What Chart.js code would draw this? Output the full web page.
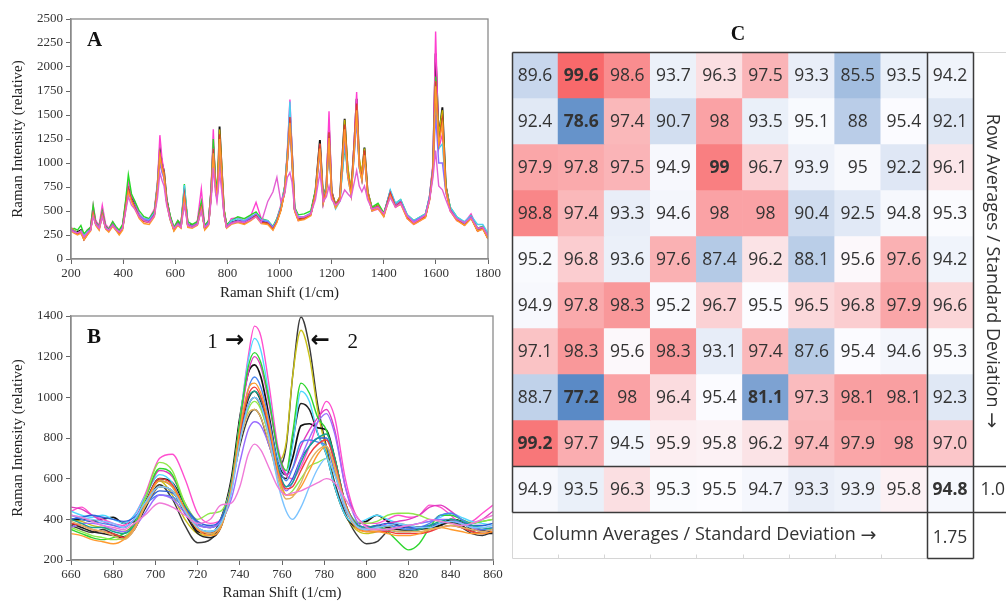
<!DOCTYPE html>
<html>
<head>
<meta charset="utf-8">
<script src="https://cdn.jsdelivr.net/npm/chart.js@4.4.0/dist/chart.umd.min.js"></script>
<style>
  body { margin: 0; background: #fff; width: 1006px; height: 602px; overflow: hidden; position: relative; }
  canvas { position: absolute; }
  #specA { left: 0; top: 0; }
  #specB { left: 0; top: 300px; }
  #heat { left: 505px; top: 0; }
</style>
</head>
<body>
<canvas id="specA" width="506" height="302"></canvas>
<canvas id="specB" width="506" height="302"></canvas>
<canvas id="heat" width="501" height="602"></canvas>
<script>
// ---- panel A: full spectra (Raman shift, 1/cm) ----
const xA = [200,212,225,238,250,262,275,285,295,308,
  320,333,345,360,372,385,398,410,420,432,
  445,462,480,500,520,532,541,549,557,567,
  580,595,610,622,635,648,665,685,700,713,
  728,738,746,754,760,765,770,778,787,797,
  815,840,865,890,910,930,955,975,990,1005,
  1020,1030,1040,1048,1058,1072,1095,1120,1138,1155,
  1168,1180,1190,1200,1215,1232,1250,1262,1275,1287,
  1296,1306,1316,1326,1338,1355,1378,1400,1425,1445,
  1465,1490,1515,1540,1560,1576,1589,1599,1611,1625,
  1638,1655,1680,1710,1735,1760,1780,1800];

const blackA = [310,290,280,300,210,260,310,490,380,330,
  480,330,300,370,320,270,330,560,750,640,
  560,450,400,390,470,760,1140,1000,910,620,
  440,310,380,340,690,360,350,380,560,330,
  380,700,1170,800,650,900,1380,950,500,340,
  380,400,380,420,460,390,380,320,400,520,
  720,1050,1510,1100,520,420,430,470,700,1240,
  600,760,1360,700,560,640,1460,900,700,1200,
  1670,1000,850,1160,700,520,560,460,700,560,
  600,440,380,420,450,640,950,2140,1260,1580,
  760,520,420,360,440,300,330,220];
const pinkA = [330,300,260,280,240,300,330,560,400,350,
  560,360,320,390,330,280,340,600,800,660,
  600,470,420,420,520,800,1290,1050,900,600,
  420,330,400,360,740,370,340,400,730,340,
  400,760,1350,760,620,760,1000,820,470,330,
  420,430,400,450,590,420,390,310,420,560,
  760,1120,1660,1150,500,400,420,460,680,1200,
  580,780,1540,720,540,650,1350,860,660,1250,
  1740,980,820,1080,680,500,520,450,680,540,
  580,420,360,400,440,660,1000,2370,1150,1300,
  700,500,400,380,470,320,340,240];
const pinkOutA = [300,280,270,290,230,270,300,440,360,320,
  440,320,300,350,310,280,320,500,650,560,
  520,440,400,380,450,640,900,820,760,560,
  420,320,360,330,560,350,330,360,500,330,
  360,620,950,700,600,720,900,720,460,330,
  370,390,380,410,440,380,600,700,850,600,
  680,850,900,800,520,430,440,470,620,900,
  600,650,760,620,560,600,720,680,640,800,
  920,760,700,760,620,520,540,470,640,540,
  580,450,380,420,460,620,850,1130,760,720,
  620,500,420,380,430,320,330,240];
const greenA = [280,320,300,350,260,300,330,560,380,340,
  500,340,310,390,340,300,360,620,880,680,
  600,500,440,420,500,780,1050,960,880,620,
  460,330,400,360,780,390,360,390,600,350,
  400,740,1250,860,680,950,1250,920,520,360,
  400,440,420,460,490,420,400,340,420,540,
  760,1080,1400,1050,540,460,470,500,720,1150,
  640,760,1200,700,560,640,1150,950,700,1150,
  1500,1000,880,1100,700,540,580,480,680,580,
  620,460,400,440,470,640,940,1900,1250,1450,
  760,540,440,380,450,320,340,240];
const oliveA = [320,300,270,290,220,260,300,470,370,330,
  470,320,300,360,310,260,320,540,720,620,
  540,440,400,380,460,740,1080,960,900,600,
  430,300,370,330,660,350,340,370,540,320,
  370,680,1050,760,640,960,1350,1000,520,340,
  370,390,370,410,450,380,370,320,390,510,
  700,1020,1450,1060,520,410,420,460,690,1200,
  620,740,1300,690,560,650,1450,960,720,1180,
  1600,1050,900,1150,720,520,560,460,680,560,
  600,440,380,410,450,620,920,1850,1300,1550,
  760,520,420,360,430,300,320,220];
const cyanA = [300,280,260,290,240,280,300,470,360,310,
  450,320,290,350,300,260,320,520,720,620,
  540,460,420,410,480,760,1100,960,860,600,
  410,300,360,330,770,360,330,360,520,320,
  360,680,1150,780,620,840,1200,900,480,330,
  400,420,400,440,470,410,400,330,410,540,
  740,1100,1640,1120,520,440,440,480,680,1150,
  600,740,1300,660,520,600,1200,850,660,1100,
  1550,950,820,1080,680,500,540,450,720,580,
  620,460,400,440,470,660,960,1600,1150,1200,
  740,540,440,390,450,360,360,270];
const orangeA = [290,270,250,270,200,250,290,460,350,300,
  450,310,280,340,300,250,300,520,700,600,
  520,420,370,360,440,720,1080,940,860,580,
  410,290,350,320,640,330,320,350,520,300,
  350,660,1100,760,620,860,1250,880,460,320,
  360,380,360,400,440,370,360,300,380,500,
  700,1020,1420,1040,500,400,410,450,670,1150,
  580,700,1260,660,530,610,1350,860,660,1120,
  1550,960,820,1080,670,500,530,440,660,540,
  570,420,360,400,430,610,900,1800,1200,1400,
  720,500,400,350,420,290,310,210];
const violetA = [310,290,270,290,230,270,310,480,370,330,
  470,330,300,360,320,270,330,540,720,620,
  560,450,410,400,470,740,1000,900,840,600,
  430,310,370,340,680,360,340,370,540,330,
  380,680,1080,780,640,860,1200,900,490,340,
  380,400,390,430,470,400,390,330,400,520,
  720,1000,1350,1000,520,430,440,470,680,1100,
  620,720,1200,680,550,620,1250,880,680,1100,
  1450,950,840,1050,690,520,550,460,690,560,
  600,450,390,430,460,640,920,1500,1000,1000,
  700,520,420,370,440,310,330,230];
const redA = [300,280,260,280,200,250,300,480,360,310,
  460,320,290,350,310,260,320,540,730,620,
  540,440,390,380,460,740,1100,970,880,600,
  420,300,360,330,670,350,330,360,540,310,
  360,680,1150,790,640,880,1300,920,480,330,
  370,390,370,410,450,380,370,310,390,510,
  710,1040,1480,1080,510,410,420,460,690,1200,
  600,720,1320,690,550,630,1400,880,690,1180,
  1620,980,840,1130,690,510,550,450,690,550,
  590,430,370,410,440,630,940,1850,1200,1450,
  740,510,410,350,430,290,320,210];

// ---- panel B: zoom 660-860 1/cm ----
const xB = [660,665,670,675,680,685,690,695,702,708,714,720,726,
  731,736,740,744,747,750,754,758,762,765,769,773,777,781,785,
  790,795,800,805,810,815,820,825,830,835,840,845,850,855,860];

const black1B = [370,350,335,350,330,315,360,460,570,500,370,285,300,380,560,760,900,940,900,760,660,760,1100,1395,1250,960,760,580,430,330,280,290,340,360,360,355,360,370,385,360,330,320,340];
const oliveB = [400,390,370,360,350,340,380,480,590,520,400,330,320,390,580,800,960,1000,950,800,690,780,1100,1330,1200,930,740,560,420,350,330,340,360,380,370,360,350,370,400,390,360,350,360];
const black2B = [400,400,390,400,410,380,390,480,600,580,470,340,330,400,600,900,1120,1160,1100,900,680,620,700,860,870,850,840,700,470,380,390,420,390,370,360,360,360,370,400,390,350,345,335];
const black3B = [380,360,340,330,320,310,350,450,560,540,430,330,310,360,560,820,990,1030,980,820,650,600,780,970,940,820,720,560,420,360,350,370,360,350,345,350,360,380,390,370,340,330,330];
const pinkTallB = [440,460,420,400,380,370,420,520,700,720,600,430,380,400,560,880,1200,1350,1300,1050,760,620,600,660,760,880,980,900,600,420,380,380,400,420,410,420,470,460,420,380,390,430,470];
const pinkLowB = [420,410,390,370,360,350,380,420,480,460,420,380,400,470,480,560,720,770,740,650,560,520,530,540,560,580,600,580,500,420,360,350,350,360,370,380,400,390,380,370,380,400,420];
const cyanB = [440,420,410,420,400,380,420,510,620,580,450,360,340,380,540,880,1180,1290,1230,1000,720,620,760,1030,980,820,720,560,420,380,400,420,400,380,370,380,390,410,430,410,390,380,370];
const greenB = [350,330,310,300,310,330,380,500,650,620,470,380,360,400,580,880,1150,1220,1170,980,740,640,820,1070,1020,900,840,700,480,380,360,370,340,290,250,280,360,420,420,400,380,390,400];
const blueB = [420,400,390,380,370,360,400,470,520,510,450,380,360,400,560,820,1040,1100,1050,880,680,590,650,780,790,780,760,630,450,370,350,360,370,360,350,360,380,420,430,400,370,350,360];
const orangeB = [330,320,300,290,280,300,360,470,590,560,450,350,320,360,560,840,1040,1070,1020,860,640,520,520,560,640,720,760,650,460,360,340,340,330,320,320,330,350,360,350,340,330,330,340];
const violetB = [360,380,380,370,350,340,360,430,520,500,430,370,360,390,500,680,840,880,860,760,620,540,580,700,800,880,920,820,560,400,350,340,350,360,370,380,390,400,400,380,360,340,350];
const redB = [380,370,350,340,330,310,350,470,600,570,450,350,330,370,540,820,1010,1050,1000,840,640,550,560,640,720,770,790,680,480,370,340,340,340,330,330,330,340,360,370,360,340,330,340];
const tealB = [400,380,360,360,340,330,370,480,590,560,450,360,340,380,560,840,1000,1030,990,840,660,560,580,680,760,800,820,700,480,380,360,360,350,340,340,350,370,390,400,390,370,360,350];
const lightGreenB = [360,340,320,310,300,310,370,500,680,640,480,400,430,440,560,780,940,980,940,800,620,520,540,600,660,680,700,620,470,390,380,390,420,430,430,420,400,390,380,370,380,390,400];
const magentaB = [460,450,420,390,370,360,400,500,640,610,480,380,360,400,580,860,1120,1200,1150,960,740,620,650,760,840,900,940,840,560,420,370,360,380,390,400,420,460,470,440,400,380,400,440];
const lightBlueB = [420,410,400,390,380,360,400,480,560,540,440,360,340,380,530,780,960,1000,960,800,580,440,400,460,560,650,700,620,460,370,350,360,370,380,370,360,360,380,390,380,360,360,370];
const tanB = [390,370,350,340,320,300,350,460,560,540,440,360,330,370,540,780,920,940,900,770,600,500,510,580,680,740,760,660,470,370,350,350,350,340,340,340,350,360,370,360,350,340,350];
const darkBlueB = [400,410,420,410,400,390,410,470,540,530,460,390,370,400,560,800,960,1000,960,820,640,560,600,700,760,800,800,680,470,380,360,370,380,370,360,360,370,380,390,380,370,370,380];

// ---- panel C: accuracy table ----
const row1 = [89.6, 99.6, 98.6, 93.7, 96.3, 97.5, 93.3, 85.5, 93.5];
const row2 = [92.4, 78.6, 97.4, 90.7, 98, 93.5, 95.1, 88, 95.4];
const row3 = [97.9, 97.8, 97.5, 94.9, 99, 96.7, 93.9, 95, 92.2];
const row4 = [98.8, 97.4, 93.3, 94.6, 98, 98, 90.4, 92.5, 94.8];
const row5 = [95.2, 96.8, 93.6, 97.6, 87.4, 96.2, 88.1, 95.6, 97.6];
const row6 = [94.9, 97.8, 98.3, 95.2, 96.7, 95.5, 96.5, 96.8, 97.9];
const row7 = [97.1, 98.3, 95.6, 98.3, 93.1, 97.4, 87.6, 95.4, 94.6];
const row8 = [88.7, 77.2, 98, 96.4, 95.4, 81.1, 97.3, 98.1, 98.1];
const row9 = [99.2, 97.7, 94.5, 95.9, 95.8, 96.2, 97.4, 97.9, 98];
const rowAverages = [94.2, 92.1, 96.1, 95.3, 94.2, 96.6, 95.3, 92.3, 97.0];
const columnAverages = [94.9, 93.5, 96.3, 95.3, 95.5, 94.7, 93.3, 93.9, 95.8];
const overallAverage = 94.8;
const columnSD = 1.75;
const rowSD = '1.0';
const boldCells = [[0, 1], [1, 1], [2, 4], [7, 1], [7, 5], [8, 0], [9, 9]];

const serif = "'Liberation Serif', 'Times New Roman', serif";
const sans = "'Open Sans', 'Noto Sans', sans-serif";
const arrowFont = "'DejaVu Sans', sans-serif";

const panelDecor = {
  id: 'panelDecor',
  afterDraw(chart, args, o) {
    const { ctx, chartArea: a, scales } = chart;
    ctx.save();
    ctx.strokeStyle = '#8a8a8a';
    ctx.lineWidth = 1.3;
    ctx.strokeRect(a.left, a.top, a.width, a.height);
    ctx.fillStyle = '#111';
    ctx.font = 'bold 21px ' + serif;
    ctx.textBaseline = 'alphabetic';
    ctx.fillText(o.letter, a.left + 16, a.top + 27);
    (o.notes || []).forEach(n => {
      ctx.font = n.font;
      ctx.textAlign = n.align;
      ctx.fillText(n.text, scales.x.getPixelForValue(n.x), scales.y.getPixelForValue(n.y));
    });
    ctx.restore();
  }
};

function spectrumChart(id, xs, series, xr, yr, letter, notes, tension) {
  const datasets = series.map(s => ({
    data: xs.map((x, i) => ({ x: x, y: s.y[i] })),
    borderColor: s.c,
    borderWidth: s.w || 1.4,
    pointRadius: 0,
    tension: tension,
    cubicInterpolationMode: tension ? 'monotone' : 'default',
    fill: false
  }));
  const tickFont = { family: serif, size: 13 };
  const titleFont = { family: serif, size: 15 };
  return new Chart(document.getElementById(id), {
    type: 'line',
    data: { datasets },
    plugins: [panelDecor],
    options: {
      responsive: false,
      animation: false,
      layout: { padding: { left: 0, top: yr.top, right: xr.right, bottom: 0 } },
      plugins: {
        legend: { display: false },
        tooltip: { enabled: false },
        panelDecor: { letter, notes }
      },
      scales: {
        x: {
          type: 'linear', min: xr.min, max: xr.max,
          ticks: { stepSize: xr.step, font: tickFont, color: '#333', padding: 2, maxRotation: 0, autoSkip: false, callback: v => String(v) },
          grid: { drawOnChartArea: false, drawTicks: true, tickLength: 5, color: '#666' },
          border: { color: '#8a8a8a', width: 1.3 },
          title: { display: true, text: 'Raman Shift (1/cm)', font: titleFont, color: '#222', padding: { top: 0, bottom: 0 } },
          afterFit: s => { s.height = xr.h; }
        },
        y: {
          min: yr.min, max: yr.max,
          ticks: { stepSize: yr.step, font: tickFont, color: '#333', padding: 3, callback: v => String(v) },
          grid: { drawOnChartArea: false, drawTicks: true, tickLength: 5, color: '#666' },
          border: { color: '#8a8a8a', width: 1.3 },
          title: { display: true, text: 'Raman Intensity (relative)', font: titleFont, color: '#222', padding: { top: 9, bottom: 0 } },
          afterFit: s => { s.width = 71; }
        }
      }
    }
  });
}

spectrumChart('specA', xA, [
  { y: pinkOutA, c: '#e35fd2' },
  { y: orangeA, c: '#ff9a2e' },
  { y: redA, c: '#e23434' },
  { y: violetA, c: '#8a6cff' },
  { y: cyanA, c: '#48cff0' },
  { y: oliveA, c: '#c9b600' },
  { y: greenA, c: '#27d927' },
  { y: pinkA, c: '#ff3fd0' },
  { y: blackA, c: '#111', w: 1.9 }
], { min: 200, max: 1800, step: 200, right: 18, h: 43 },
   { min: 0, max: 2500, step: 250, top: 19 }, 'A', [], 0);

const noteFont = '21px ' + serif;
const noteArrow = 'bold 23px ' + arrowFont;
spectrumChart('specB', xB, [
  { y: pinkLowB, c: '#f07ad8' },
  { y: lightBlueB, c: '#7cc4ff' },
  { y: tanB, c: '#e0b060' },
  { y: orangeB, c: '#ff9a2e' },
  { y: redB, c: '#f03c3c' },
  { y: tealB, c: '#16a38f' },
  { y: violetB, c: '#9a6cff' },
  { y: darkBlueB, c: '#2f5fd6' },
  { y: blueB, c: '#4b86f0' },
  { y: lightGreenB, c: '#8fe84a' },
  { y: greenB, c: '#2fd62f' },
  { y: magentaB, c: '#e03cc0' },
  { y: cyanB, c: '#4fd8ff' },
  { y: pinkTallB, c: '#ff4fcf' },
  { y: black3B, c: '#222', w: 1.5 },
  { y: black2B, c: '#111', w: 1.7 },
  { y: oliveB, c: '#c9c21a', w: 1.4 },
  { y: black1B, c: '#3a3a3a', w: 1.4 }
], { min: 660, max: 860, step: 20, right: 13, h: 42 },
   { min: 200, max: 1400, step: 200, top: 16 }, 'B',
   [{ x: 729.5, y: 1245, text: '1', align: 'right', font: noteFont },
    { x: 733, y: 1250, text: '\u2192', align: 'left', font: noteArrow },
    { x: 773.5, y: 1250, text: '\u2190', align: 'left', font: noteArrow },
    { x: 791, y: 1245, text: '2', align: 'left', font: noteFont }], 0.4);

// ---- heat map ----
const gridRows = [row1, row2, row3, row4, row5, row6, row7, row8, row9];
const tableRows = gridRows.map((r, i) => r.concat([rowAverages[i]])).concat([columnAverages.concat([overallAverage])]);
const allVals = tableRows.flat().slice().sort((a, b) => a - b);
const vMin = allVals[0], vMax = allVals[allVals.length - 1];
const vMid = (allVals[allVals.length / 2 - 1] + allVals[allVals.length / 2]) / 2;

function heatColor(v) {
  const lo = [90, 138, 198], mid = [252, 252, 255], hi = [248, 105, 107];
  let t, c0, c1;
  if (v <= vMid) { t = (vMid - v) / (vMid - vMin); c0 = mid; c1 = lo; }
  else { t = (v - vMid) / (vMax - vMid); c0 = mid; c1 = hi; }
  const c = c0.map((k, i) => Math.round(k + (c1[i] - k) * t));
  return `rgb(${c[0]},${c[1]},${c[2]})`;
}

const colLabels = ['1', '2', '3', '4', '5', '6', '7', '8', '9', 'avg'];
const heatSets = tableRows.map((vals, r) => ({
  data: vals.map(() => [r, r + 1]),
  backgroundColor: vals.map(heatColor),
  labels: vals.map((v, c) => c === 9 ? v.toFixed(1) : String(v)),
  bold: vals.map((v, c) => boldCells.some(b => b[0] === r && b[1] === c)),
  borderWidth: 0,
  borderSkipped: false,
  grouped: false,
  barPercentage: 1,
  categoryPercentage: 1
}));

// text followed by a DejaVu arrow, left aligned at (x, y)
function textWithArrow(ctx, text, x, y, size) {
  ctx.font = size + 'px ' + sans;
  ctx.textAlign = 'left';
  ctx.fillText(text, x, y);
  const w = ctx.measureText(text + ' ').width;
  ctx.font = (size + 1) + 'px ' + arrowFont;
  ctx.fillText('\u2192', x + w, y + 1);
  return w + ctx.measureText('\u2192').width;
}

const heatDecor = {
  id: 'heatDecor',
  afterDatasetsDraw(chart) {
    const { ctx, chartArea: a, scales: { y } } = chart;
    const W = chart.width;
    const colW = a.width / 10;
    const X = i => Math.round(a.left + i * colW) + 0.5;
    const Y = j => Math.round(y.getPixelForValue(j)) + 0.5;
    ctx.save();
    ctx.fillStyle = '#333';
    ctx.textAlign = 'center';
    ctx.textBaseline = 'middle';
    chart.data.datasets.forEach((ds, r) => {
      chart.getDatasetMeta(r).data.forEach((el, c) => {
        ctx.font = (ds.bold[c] ? 'bold ' : '') + '17.5px ' + sans;
        ctx.fillText(ds.labels[c], el.x, (el.y + el.base) / 2 + 1);
      });
    });
    ctx.font = '17.5px ' + sans;
    ctx.fillText(columnSD.toFixed(2), a.left + colW * 9.5, y.getPixelForValue(10.5) + 3);
    ctx.textAlign = 'left';
    ctx.fillText(rowSD, X(10) + 7, y.getPixelForValue(9.5) + 1);
    textWithArrow(ctx, 'Column Averages / Standard Deviation', X(0) + 20, y.getPixelForValue(10.5), 18);

    ctx.save();
    ctx.font = '18px ' + sans;
    const rowText = 'Row Averages / Standard Deviation';
    const total = ctx.measureText(rowText + ' ').width + 18;
    ctx.translate(487, 272 - total / 2);
    ctx.rotate(Math.PI / 2);
    textWithArrow(ctx, rowText, 0, 0, 18);
    ctx.restore();

    ctx.textAlign = 'center';
    ctx.textBaseline = 'alphabetic';
    ctx.fillStyle = '#111';
    ctx.font = 'bold 20px ' + serif;
    ctx.fillText('C', 233, 40);

    // light guide lines
    ctx.strokeStyle = '#d6d6d6';
    ctx.lineWidth = 1;
    ctx.beginPath();
    ctx.moveTo(X(0), Y(11)); ctx.lineTo(X(9), Y(11));
    ctx.moveTo(X(0), Y(10)); ctx.lineTo(X(0), Y(11));
    ctx.moveTo(X(10), Y(0)); ctx.lineTo(W, Y(0));
    for (let i = 1; i < 9; i++) { ctx.moveTo(X(i), Y(11) - 4); ctx.lineTo(X(i), Y(11)); }
    ctx.stroke();

    // table borders
    ctx.strokeStyle = '#3a3a3a';
    ctx.lineWidth = 1.5;
    ctx.beginPath();
    ctx.moveTo(X(0), Y(0)); ctx.lineTo(X(10), Y(0));
    ctx.moveTo(X(0), Y(0)); ctx.lineTo(X(0), Y(10));
    ctx.moveTo(X(0), Y(9)); ctx.lineTo(W, Y(9));
    ctx.moveTo(X(0), Y(10)); ctx.lineTo(W, Y(10));
    ctx.moveTo(X(9), Y(0)); ctx.lineTo(X(9), Y(11));
    ctx.moveTo(X(10), Y(0)); ctx.lineTo(X(10), Y(11));
    ctx.moveTo(X(9), Y(11)); ctx.lineTo(X(10), Y(11));
    ctx.stroke();
    ctx.restore();
  }
};

new Chart(document.getElementById('heat'), {
  type: 'bar',
  data: { labels: colLabels, datasets: heatSets },
  plugins: [heatDecor],
  options: {
    responsive: false,
    animation: false,
    layout: { padding: { left: 7, top: 52, right: 33, bottom: 44 } },
    plugins: { legend: { display: false }, tooltip: { enabled: false } },
    scales: {
      x: { display: false },
      y: { display: false, min: 0, max: 11, reverse: true }
    }
  }
});
</script>
</body>
</html>
